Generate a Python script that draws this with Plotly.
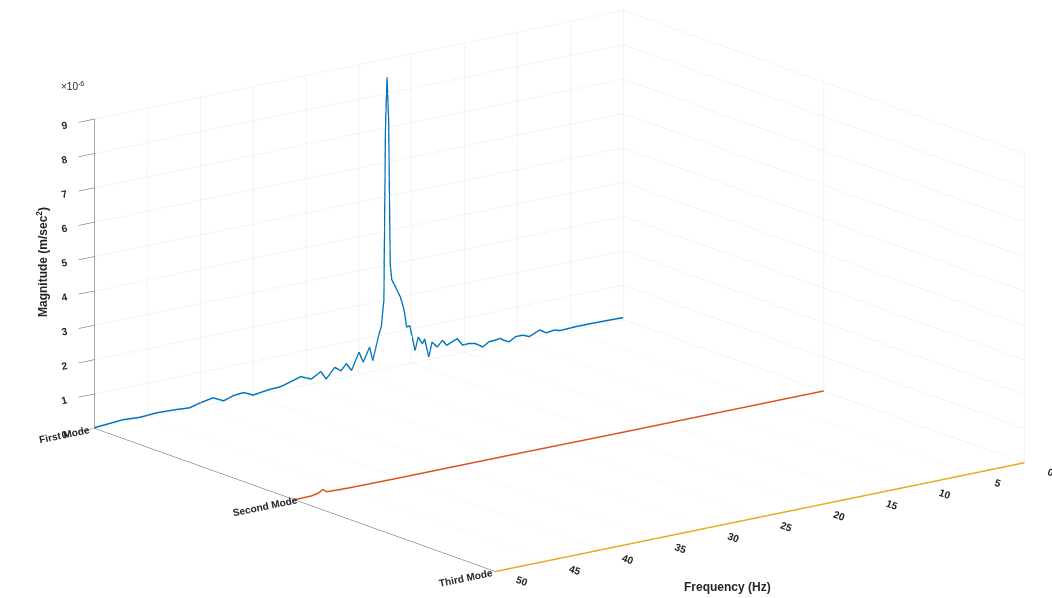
import plotly.graph_objects as go

# ---------------- data (magnitudes in units of 1e-6 m/sec^2) ----------------
mode_labels = ["First Mode", "Second Mode", "Third Mode"]
mode_positions = [0, 1, 2]

freq_first = [50.0, 47.3, 45.7, 44.1, 42.4, 41.0, 40.0, 38.8, 37.8, 36.9, 35.9, 35.0,
              33.6, 32.4, 30.5, 29.5, 28.6, 28.1, 27.3, 26.7, 26.2, 25.7, 25.0, 24.6,
              24.0, 23.7, 23.1, 22.9, 22.65, 22.5, 22.35, 22.2, 22.05, 21.9, 21.6, 21.1,
              20.8, 20.7, 20.5, 20.2, 19.7, 19.4, 19.0, 18.8, 18.4, 18.1, 17.6, 17.1,
              16.7, 16.2, 15.7, 15.2, 14.6, 14.0, 13.3, 12.7, 12.1, 11.6, 11.4, 10.8,
              10.2, 9.5, 8.9, 7.9, 7.3, 6.5, 6.0, 4.5, 2.9, 1.4, 0.0]
mag_first = [0.02, 0.08, 0.05, 0.08, 0.06, 0.03, 0.11, 0.18, 0.03, 0.12, 0.15, 0.02,
             0.08, 0.10, 0.27, 0.14, 0.30, 0.05, 0.34, 0.20, 0.38, 0.15, 0.64, 0.32,
             0.72, 0.31, 1.06, 1.23, 2.0, 7.0, 8.47, 7.2, 3.0, 2.55, 2.35, 2.0,
             1.68, 1.52, 1.08, 1.10, 0.35, 0.72, 0.50, 0.63, 0.08, 0.49, 0.32, 0.48,
             0.31, 0.38, 0.44, 0.22, 0.23, 0.19, 0.05, 0.16, 0.17, 0.19, 0.13, 0.04,
             0.15, 0.15, 0.07, 0.20, 0.08, 0.11, 0.06, 0.08, 0.08, 0.07, 0.06]

freq_second = [50.0, 48.5, 47.8, 47.4, 47.0, 45.0, 40.0, 30.0, 20.0, 10.0, 0.0]
mag_second = [0.01, 0.02, 0.06, 0.14, 0.05, 0.03, 0.02, 0.02, 0.01, 0.01, 0.01]

freq_third = [50.0, 40.0, 30.0, 20.0, 10.0, 0.0]
mag_third = [0.005, 0.005, 0.005, 0.005, 0.005, 0.005]

freq_ticks = [0, 5, 10, 15, 20, 25, 30, 35, 40, 45, 50]
mag_ticks = [0, 1, 2, 3, 4, 5, 6, 7, 8, 9]

colors = ["#0072BD", "#D95319", "#EDB120"]

series = [(freq_first, mag_first), (freq_second, mag_second), (freq_third, mag_third)]

fig = go.Figure()
for i, (fr, mg) in enumerate(series):
    fig.add_trace(go.Scatter3d(
        x=fr, y=[mode_positions[i]] * len(fr), z=mg,
        mode="lines", line=dict(color=colors[i], width=3),
        name=mode_labels[i], showlegend=False, hoverinfo="skip"))

font_family = "Liberation Sans, Arial, sans-serif"
tick_font = dict(family=font_family, size=11, color="#262626", weight="bold")
title_font = dict(family=font_family, size=12, color="#262626", weight="bold")

axis_common = dict(showbackground=True, backgroundcolor="white",
                   gridcolor="#e8e8e8", gridwidth=1,
                   showline=True, linecolor="#555555", linewidth=1,
                   zeroline=False, showspikes=False, tickfont=tick_font,
                   ticks="outside", ticklen=4, tickcolor="#555555",
                   title=dict(text=""))

# pad the mode labels on the right so the visible text sits further left, as in the original
pad_counts = [11, 16, 11]
mode_ticktext = [lab + "\u00a0" * n for lab, n in zip(mode_labels, pad_counts)]

scale = 2.22
view_dir = (0.582, 0.767, 0.271)
dist = 1.9
cen = (0.0893, -0.0678, -0.0278)

fig.update_layout(
    width=1052, height=598,
    margin=dict(l=0, r=0, t=0, b=0),
    paper_bgcolor="white",
    font=dict(family=font_family, color="#262626"),
    scene=dict(
        domain=dict(x=[0.0, 1.0], y=[0.0, 1.0]),
        xaxis=dict(axis_common, range=[0, 50], tickvals=freq_ticks,
                   ticklen=20, tickcolor="rgba(0,0,0,0)"),
        yaxis=dict(axis_common, range=[0, 2], tickvals=mode_positions, ticktext=mode_ticktext,
                   ticklen=25, tickcolor="rgba(0,0,0,0)"),
        zaxis=dict(axis_common, range=[0, 9], tickvals=mag_ticks),
        aspectmode="manual",
        aspectratio=dict(x=1 * scale, y=1 * scale, z=0.484 * scale),
        camera=dict(
            projection=dict(type="orthographic"),
            eye=dict(x=cen[0] + view_dir[0] * dist, y=cen[1] + view_dir[1] * dist,
                     z=cen[2] + view_dir[2] * dist),
            up=dict(x=0, y=0, z=1),
            center=dict(x=cen[0], y=cen[1], z=cen[2]),
        ),
    ),
    annotations=[
        dict(text="×10<sup>-6</sup>", x=72 / 1052, y=(598 - 86) / 598, xref="paper", yref="paper",
             xanchor="center", yanchor="middle",
             showarrow=False, font=dict(family=font_family, size=10, color="#262626")),
        dict(text="Frequency (Hz)", x=727 / 1052, y=(598 - 587) / 598, xref="paper", yref="paper",
             xanchor="center", yanchor="middle",
             showarrow=False, font=title_font),
        dict(text="Magnitude (m/sec<sup>2</sup>)", x=42 / 1052, y=(598 - 262) / 598, xref="paper", yref="paper",
             xanchor="center", yanchor="middle",
             showarrow=False, textangle=-90, font=title_font),
    ],
)

fig.write_html("out.html", config={"displayModeBar": False},
               post_script="document.body.style.margin='0px';")
